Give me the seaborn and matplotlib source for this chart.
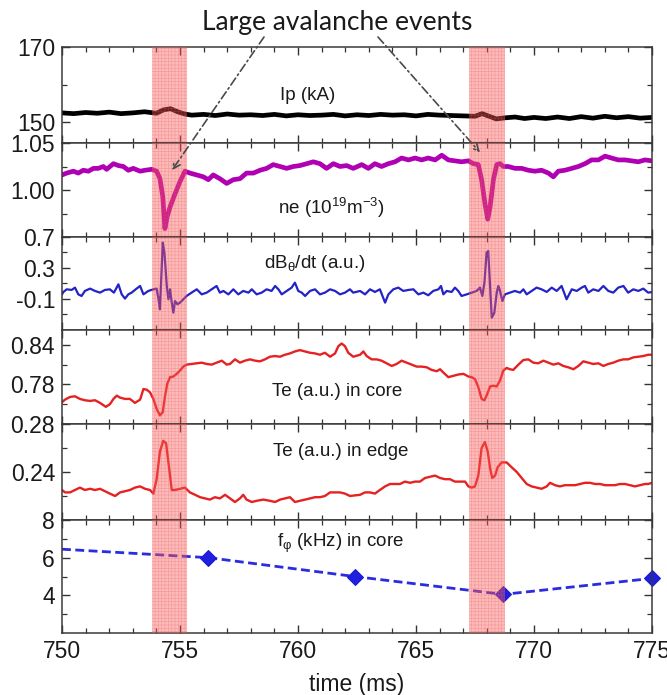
import matplotlib
matplotlib.use("Agg")
import matplotlib.pyplot as plt
import seaborn as sns
from matplotlib.ticker import MultipleLocator, FixedLocator

# ---------------- data ----------------
ip_t = [750.0, 750.5, 751.0, 751.5, 752.0, 752.5, 753.0, 753.5, 754.0, 754.3,
        754.6, 754.9, 755.2, 755.5, 756.0, 756.5, 757.0, 757.5, 758.0, 758.5,
        759.0, 759.5, 760.0, 760.5, 761.0, 761.5, 762.0, 762.5, 763.0, 763.5,
        764.0, 764.5, 765.0, 765.5, 766.0, 766.5, 767.0, 767.5, 767.8, 768.1,
        768.4, 768.8, 769.2, 769.6, 770.0, 770.5, 771.0, 771.5, 772.0, 772.5,
        773.0, 773.5, 774.0, 774.5, 775.0]
ip_v = [152.5, 152.3, 152.6, 152.4, 152.7, 152.3, 152.5, 152.8, 152.4, 153.3,
        153.6, 152.8, 152.2, 151.9, 152.1, 151.8, 152.2, 151.9, 152.0, 151.8,
        152.1, 151.7, 152.0, 151.8, 151.9, 152.1, 151.7, 152.0, 151.8, 152.1,
        151.9, 152.0, 151.7, 152.1, 151.9, 151.8, 151.7, 151.6, 152.3, 151.6,
        150.9, 151.2, 151.4, 151.0, 151.3, 151.0, 151.4, 151.0, 151.5, 151.1,
        151.6, 151.2, 151.5, 151.1, 151.3]

ne_t = [750.00, 750.20, 750.48, 750.69, 750.90, 751.12, 751.33, 751.54, 751.75, 751.89,
        752.18, 752.39, 752.60, 752.81, 753.02, 753.31, 753.52, 753.80, 754.01, 754.15,
        754.27, 754.36, 754.46, 754.58, 754.79, 755.00, 755.21, 755.42, 755.71, 755.99,
        756.20, 756.41, 756.69, 756.98, 757.26, 757.54, 757.82, 758.11, 758.39, 758.67,
        758.95, 759.24, 759.52, 759.80, 760.08, 760.37, 760.65, 760.93, 761.21, 761.50,
        761.78, 762.06, 762.34, 762.70, 762.98, 763.26, 763.54, 763.83, 764.11, 764.39,
        764.68, 764.96, 765.24, 765.52, 765.81, 766.09, 766.37, 766.65, 766.93, 767.22,
        767.43, 767.64, 767.78, 767.92, 768.04, 768.14, 768.28, 768.42, 768.56, 768.70,
        768.91, 769.20, 769.48, 769.76, 770.04, 770.32, 770.61, 770.82, 771.03, 771.31,
        771.60, 771.88, 772.16, 772.44, 772.73, 773.01, 773.29, 773.57, 773.86, 774.14,
        774.42, 774.70, 775.00]
ne_v = [1.016, 1.018, 1.020, 1.018, 1.021, 1.020, 1.023, 1.023, 1.025, 1.022,
        1.028, 1.026, 1.025, 1.021, 1.023, 1.020, 1.021, 1.022, 1.020, 1.012,
        0.993, 0.959, 0.972, 0.982, 0.996, 1.009, 1.020, 1.018, 1.016, 1.014,
        1.011, 1.016, 1.012, 1.007, 1.011, 1.012, 1.018, 1.018, 1.021, 1.023,
        1.027, 1.025, 1.023, 1.025, 1.026, 1.028, 1.030, 1.028, 1.023, 1.028,
        1.025, 1.026, 1.023, 1.027, 1.023, 1.028, 1.025, 1.028, 1.030, 1.034,
        1.032, 1.034, 1.032, 1.034, 1.032, 1.037, 1.032, 1.031, 1.030, 1.031,
        1.028, 1.027, 1.011, 0.986, 0.969, 0.982, 1.011, 1.027, 1.028, 1.025,
        1.025, 1.023, 1.023, 1.021, 1.020, 1.021, 1.018, 1.014, 1.020, 1.021,
        1.023, 1.025, 1.028, 1.032, 1.032, 1.036, 1.034, 1.032, 1.032, 1.031,
        1.030, 1.032, 1.031]

db_t = [750.00, 750.06, 750.20, 750.41, 750.55, 750.69, 750.83, 750.97, 751.19, 751.40,
        751.61, 751.82, 752.03, 752.20, 752.39, 752.53, 752.67, 752.81, 752.95, 753.16,
        753.31, 753.45, 753.66, 753.87, 754.01, 754.08, 754.15, 754.21, 754.27, 754.34,
        754.44, 754.51, 754.58, 754.65, 754.72, 754.79, 754.89, 755.00, 755.14, 755.28,
        755.49, 755.71, 755.92, 756.13, 756.34, 756.55, 756.69, 756.84, 757.05, 757.26,
        757.47, 757.68, 757.90, 758.04, 758.25, 758.46, 758.67, 758.88, 759.03, 759.17,
        759.31, 759.52, 759.73, 759.87, 760.01, 760.16, 760.30, 760.51, 760.72, 760.93,
        761.14, 761.36, 761.57, 761.78, 761.99, 762.20, 762.34, 762.63, 762.84, 763.05,
        763.26, 763.47, 763.69, 763.83, 764.04, 764.25, 764.46, 764.68, 764.89, 765.10,
        765.31, 765.52, 765.73, 765.95, 766.06, 766.16, 766.30, 766.51, 766.65, 766.79,
        766.93, 767.15, 767.36, 767.57, 767.71, 767.81, 767.90, 767.99, 768.06, 768.14,
        768.21, 768.32, 768.42, 768.49, 768.56, 768.66, 768.77, 768.98, 769.19, 769.41,
        769.55, 769.69, 769.90, 770.11, 770.32, 770.54, 770.75, 770.96, 771.17, 771.38,
        771.60, 771.81, 772.02, 772.16, 772.30, 772.51, 772.73, 772.94, 773.15, 773.36,
        773.57, 773.79, 773.99, 774.21, 774.42, 774.63, 774.84, 775.00]
db_v = [-0.040, -0.009, 0.025, 0.017, 0.047, -0.040, -0.061, 0.004, 0.034, 0.004,
        -0.018, 0.017, 0.025, -0.018, 0.089, -0.040, -0.095, -0.040, -0.018, 0.034,
        0.068, -0.040, 0.004, 0.025, 0.034, -0.083, -0.233, 0.197, 0.627, 0.498,
        0.068, -0.104, 0.025, -0.147, -0.276, -0.126, -0.169, -0.147, -0.104, -0.061,
        -0.018, 0.025, -0.040, -0.018, 0.025, 0.068, -0.018, 0.004, -0.040, 0.025,
        -0.040, 0.004, -0.018, 0.025, -0.040, -0.018, 0.025, 0.004, 0.068, 0.025,
        -0.040, 0.004, 0.047, 0.111, 0.004, -0.018, -0.061, 0.004, 0.025, -0.040,
        -0.018, 0.025, 0.004, -0.040, -0.018, 0.025, -0.018, 0.004, -0.040, 0.025,
        -0.009, 0.025, -0.147, -0.040, 0.025, 0.047, 0.004, 0.017, 0.025, -0.040,
        -0.018, -0.052, 0.004, 0.025, 0.068, -0.040, 0.004, -0.009, 0.047, 0.004,
        -0.061, -0.040, -0.018, 0.004, 0.047, -0.061, 0.111, 0.498, 0.520, 0.068,
        -0.341, -0.276, -0.018, 0.068, 0.004, -0.126, -0.040, -0.018, 0.004, -0.018,
        0.025, -0.040, 0.004, 0.047, 0.025, -0.009, 0.047, 0.004, 0.068, -0.104,
        0.025, 0.004, 0.047, 0.068, -0.018, 0.025, 0.004, 0.068, 0.004, -0.018,
        0.047, 0.068, -0.018, 0.025, 0.004, 0.034, -0.018, -0.010]

tec_t = [750.00, 750.13, 750.34, 750.55, 750.76, 750.97, 751.19, 751.40, 751.61, 751.86,
         752.03, 752.18, 752.32, 752.46, 752.67, 752.88, 753.09, 753.31, 753.45, 753.59,
         753.73, 753.87, 754.01, 754.15, 754.27, 754.36, 754.46, 754.58, 754.72, 754.86,
         755.00, 755.14, 755.28, 755.49, 755.71, 755.92, 756.13, 756.34, 756.55, 756.77,
         756.98, 757.12, 757.33, 757.54, 757.75, 757.97, 758.18, 758.39, 758.60, 758.81,
         759.03, 759.24, 759.45, 759.66, 759.87, 760.08, 760.30, 760.51, 760.72, 760.93,
         761.14, 761.36, 761.57, 761.71, 761.85, 761.99, 762.13, 762.34, 762.63, 762.77,
         762.91, 763.12, 763.33, 763.54, 763.76, 763.97, 764.18, 764.39, 764.60, 764.82,
         765.03, 765.24, 765.45, 765.66, 765.88, 766.02, 766.16, 766.37, 766.58, 766.79,
         767.01, 767.22, 767.36, 767.50, 767.64, 767.78, 767.90, 767.99, 768.14, 768.28,
         768.42, 768.56, 768.70, 768.84, 768.98, 769.12, 769.34, 769.55, 769.76, 769.97,
         770.18, 770.40, 770.61, 770.82, 771.03, 771.24, 771.45, 771.67, 771.88, 772.09,
         772.30, 772.51, 772.73, 772.94, 773.15, 773.36, 773.57, 773.79, 773.99, 774.21,
         774.42, 774.63, 774.84, 775.00]
tec_v = [0.753, 0.757, 0.761, 0.762, 0.758, 0.756, 0.755, 0.756, 0.752, 0.746,
         0.750, 0.758, 0.763, 0.760, 0.758, 0.758, 0.752, 0.757, 0.773, 0.772,
         0.768, 0.758, 0.743, 0.733, 0.738, 0.761, 0.781, 0.791, 0.792, 0.796,
         0.801, 0.807, 0.810, 0.811, 0.812, 0.813, 0.811, 0.810, 0.813, 0.816,
         0.810, 0.811, 0.818, 0.813, 0.816, 0.818, 0.816, 0.815, 0.818, 0.822,
         0.823, 0.822, 0.825, 0.827, 0.830, 0.832, 0.830, 0.828, 0.827, 0.825,
         0.828, 0.822, 0.827, 0.838, 0.842, 0.838, 0.828, 0.822, 0.825, 0.830,
         0.823, 0.818, 0.818, 0.816, 0.812, 0.808, 0.811, 0.816, 0.813, 0.810,
         0.807, 0.807, 0.806, 0.802, 0.800, 0.803, 0.798, 0.791, 0.793, 0.795,
         0.796, 0.792, 0.791, 0.788, 0.776, 0.758, 0.756, 0.763, 0.777, 0.778,
         0.777, 0.786, 0.801, 0.805, 0.803, 0.802, 0.810, 0.817, 0.818, 0.813,
         0.812, 0.816, 0.813, 0.810, 0.812, 0.808, 0.806, 0.803, 0.808, 0.815,
         0.813, 0.811, 0.812, 0.808, 0.811, 0.813, 0.816, 0.818, 0.818, 0.821,
         0.822, 0.823, 0.825, 0.825]

tee_t = [750.00, 750.13, 750.34, 750.55, 750.76, 750.97, 751.19, 751.40, 751.61, 751.82,
         752.03, 752.25, 752.46, 752.67, 752.88, 753.09, 753.31, 753.52, 753.73, 753.87,
         754.01, 754.15, 754.29, 754.41, 754.51, 754.65, 754.79, 755.00, 755.21, 755.42,
         755.64, 755.85, 756.06, 756.27, 756.48, 756.69, 756.91, 757.12, 757.33, 757.54,
         757.68, 757.82, 758.04, 758.25, 758.53, 758.81, 759.03, 759.24, 759.45, 759.66,
         759.87, 760.08, 760.30, 760.51, 760.72, 760.93, 761.14, 761.36, 761.57, 761.78,
         761.99, 762.20, 762.63, 762.84, 763.05, 763.26, 763.47, 763.69, 763.90, 764.11,
         764.32, 764.53, 764.75, 764.96, 765.17, 765.38, 765.59, 765.81, 766.02, 766.23,
         766.44, 766.65, 766.86, 767.08, 767.22, 767.36, 767.50, 767.64, 767.78, 767.92,
         768.04, 768.14, 768.23, 768.35, 768.46, 768.63, 768.84, 769.05, 769.27, 769.48,
         769.69, 769.90, 770.11, 770.32, 770.54, 770.68, 770.89, 771.10, 771.31, 771.53,
         771.74, 771.95, 772.16, 772.37, 772.59, 772.80, 773.01, 773.22, 773.43, 773.64,
         773.86, 774.07, 774.28, 774.49, 774.70, 774.84, 775.00]
tee_v = [0.225, 0.223, 0.223, 0.225, 0.227, 0.225, 0.226, 0.225, 0.226, 0.224,
         0.222, 0.220, 0.223, 0.224, 0.225, 0.227, 0.228, 0.226, 0.225, 0.222,
         0.234, 0.257, 0.266, 0.264, 0.248, 0.225, 0.225, 0.226, 0.227, 0.223,
         0.221, 0.219, 0.218, 0.217, 0.219, 0.218, 0.221, 0.218, 0.215, 0.218,
         0.221, 0.217, 0.215, 0.216, 0.217, 0.216, 0.215, 0.217, 0.218, 0.219,
         0.215, 0.216, 0.217, 0.218, 0.219, 0.219, 0.220, 0.223, 0.223, 0.223,
         0.222, 0.220, 0.221, 0.223, 0.223, 0.222, 0.225, 0.228, 0.230, 0.230,
         0.230, 0.232, 0.231, 0.232, 0.232, 0.235, 0.236, 0.237, 0.235, 0.234,
         0.234, 0.232, 0.232, 0.232, 0.228, 0.227, 0.228, 0.237, 0.260, 0.265,
         0.257, 0.243, 0.235, 0.237, 0.244, 0.248, 0.248, 0.244, 0.240, 0.235,
         0.230, 0.228, 0.227, 0.226, 0.228, 0.231, 0.229, 0.228, 0.229, 0.229,
         0.229, 0.230, 0.231, 0.231, 0.230, 0.230, 0.229, 0.229, 0.229, 0.230,
         0.230, 0.229, 0.228, 0.229, 0.230, 0.230, 0.231]

f_t = [750.0, 756.2, 762.4, 768.7, 775.0]
f_v = [6.45, 6.0, 5.0, 4.05, 4.9]

band_start = [753.8, 767.25]
band_end = [755.3, 768.75]

arrow_tip_t = [754.66, 767.71]
arrow_tip_v = [1.021, 1.040]

x_ticks = [750, 755, 760, 765, 770, 775]
x_ticklabels = ["750", "755", "760", "765", "770", "775"]

panel_labels = ["Ip (kA)", "ne (10$^{19}$m$^{-3}$)", "dB$_{\\mathregular{θ}}$/dt (a.u.)",
                "Te (a.u.) in core", "Te (a.u.) in edge", "f$_{\\mathregular{φ}}$ (kHz) in core"]
ylims = [(144.5, 170), (0.95, 1.05), (-0.5, 0.7), (0.72, 0.8625), (0.20, 0.28), (2, 8)]
ymajor = [[150, 170], [1.00, 1.05], [-0.1, 0.3, 0.7], [0.78, 0.84], [0.24, 0.28], [4, 6, 8]]
ymajor_labels = [["150", "170"], ["1.00", "1.05"], ["-0.1", "0.3", "0.7"],
                 ["0.78", "0.84"], ["0.24", "0.28"], ["4", "6", "8"]]
yminor = [[160], [0.975, 1.025], [-0.3, 0.1, 0.5], [0.75, 0.81], [0.22, 0.26], [3, 5, 7]]

# ---------------- style ----------------
sns.set_theme(style="ticks")
plt.rcParams["font.family"] = ["Liberation Sans", "DejaVu Sans"]
plt.rcParams["mathtext.fontset"] = "custom"
plt.rcParams["mathtext.rm"] = "Liberation Sans"
plt.rcParams["mathtext.it"] = "Liberation Sans:italic"
plt.rcParams["hatch.linewidth"] = 0.5

fig = plt.figure(figsize=(6.67, 6.95), dpi=100)
gs = fig.add_gridspec(6, 1, height_ratios=[96, 94, 93, 94, 96, 113], hspace=0,
                      left=62 / 667, right=652 / 667, top=1 - 47 / 695, bottom=1 - 633 / 695)
axes = [fig.add_subplot(gs[i]) for i in range(6)]

sns.lineplot(x=ip_t, y=ip_v, ax=axes[0], color="black", linewidth=3.4, estimator=None)
sns.lineplot(x=ne_t, y=ne_v, ax=axes[1], color="#b000b4", linewidth=3.4, estimator=None)
sns.lineplot(x=db_t, y=db_v, ax=axes[2], color="#2323c8", linewidth=1.6, estimator=None)
sns.lineplot(x=tec_t, y=tec_v, ax=axes[3], color="#e52222", linewidth=1.7, estimator=None)
sns.lineplot(x=tee_t, y=tee_v, ax=axes[4], color="#e52222", linewidth=1.7, estimator=None)
sns.lineplot(x=f_t, y=f_v, ax=axes[5], color="#2b2bdf", linewidth=2.0, estimator=None,
             linestyle=(0, (3.2, 1.6)), marker="D", markersize=8, markevery=[1, 2, 3, 4],
             markeredgecolor="#1a1ad0", markerfacecolor="#1f1fe0", clip_on=False)

label_pos = [(760.4, 157.0), (761.4, 0.981), (760.7, 0.364), (761.65, 0.7695),
             (761.8, 0.2567), (761.8, 6.77)]

for i, ax in enumerate(axes):
    ax.set_xlim(750, 775)
    ax.set_ylim(*ylims[i])
    ax.set_xlabel("")
    ax.set_ylabel("")
    ax.xaxis.set_major_locator(FixedLocator(x_ticks))
    ax.xaxis.set_minor_locator(MultipleLocator(1))
    ax.yaxis.set_major_locator(FixedLocator(ymajor[i]))
    ax.set_yticklabels(ymajor_labels[i])
    ax.yaxis.set_minor_locator(FixedLocator(yminor[i]))
    ax.tick_params(axis="both", which="both", direction="in", top=True, right=True,
                   colors="#333333", labelcolor="#1a1a1a")
    ax.tick_params(axis="both", which="major", length=6, width=1.0, labelsize=16.5, pad=5)
    ax.tick_params(axis="both", which="minor", length=3.5, width=0.9)
    for sp in ax.spines.values():
        sp.set_linewidth(1.1)
        sp.set_color("#3a3a3a")
    for s, e in zip(band_start, band_end):
        ax.axvspan(s, e, facecolor=(0.98, 0.35, 0.35, 0.4), edgecolor=(0.92, 0.3, 0.3, 0.3),
                   hatch="+++++", linewidth=0, zorder=4)
    ax.text(label_pos[i][0], label_pos[i][1], panel_labels[i], ha="center", va="center",
            fontsize=13.5, color="#1a1a1a", zorder=6)
    if i < 5:
        ax.tick_params(axis="x", which="both", labelbottom=False)

axes[5].set_xticklabels(x_ticklabels)
axes[5].set_xlabel("time (ms)", fontsize=16.5, labelpad=7, color="#1a1a1a")

fig.text(0.505, 0.967, "Large avalanche events", ha="center", va="center",
         fontsize=19, family=["Lato", "DejaVu Sans"], color="#1a1a1a")

tails = [(264 / 667, 1 - 37 / 695), (378 / 667, 1 - 37 / 695)]
for tt, tv, tail in zip(arrow_tip_t, arrow_tip_v, tails):
    axes[1].annotate("", xy=(tt, tv), xycoords="data", xytext=tail,
                     textcoords="figure fraction", annotation_clip=False, zorder=7,
                     arrowprops=dict(arrowstyle="->", linestyle=(0, (5, 2, 1, 2)),
                                     color="#4a4a4a", lw=1.2, shrinkA=0, shrinkB=0,
                                     mutation_scale=13))

fig.savefig("out.png", dpi=100)
